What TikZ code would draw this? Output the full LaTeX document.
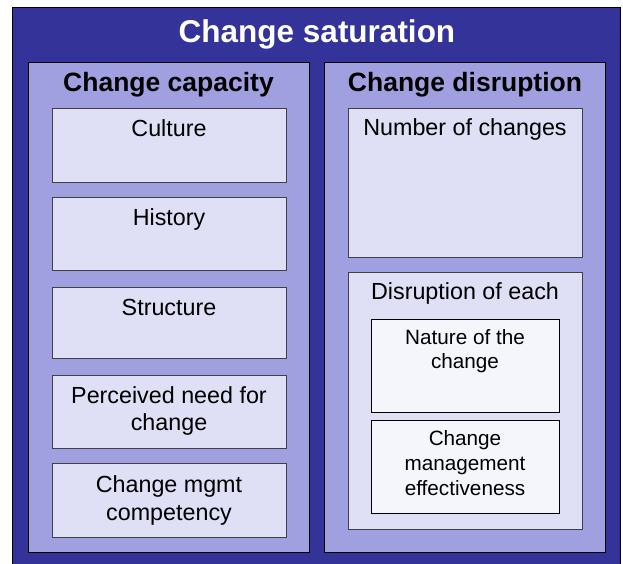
\documentclass[tikz,border=0pt]{standalone}
\usepackage{fontspec}
\setmainfont{Liberation Sans}
\definecolor{darkblue}{HTML}{333399}
\definecolor{panelblue}{HTML}{A0A0E0}
\definecolor{boxblue}{HTML}{DFDFF5}
\definecolor{innerbox}{HTML}{F5F5FC}
\definecolor{edgegray}{HTML}{404040}
\begin{document}
\begin{tikzpicture}[x=1pt,y=-1pt,
  frame/.style={draw=black, line width=0.8pt, fill=darkblue},
  panel/.style={draw=black, line width=0.8pt, fill=panelblue},
  itembox/.style={draw=edgegray, line width=0.8pt, fill=boxblue},
  innerbx/.style={draw=black, line width=0.8pt, fill=innerbox},
  titletxt/.style={anchor=base, text=white, font=\fontsize{31.5}{36}\selectfont\bfseries, inner sep=0pt},
  paneltxt/.style={anchor=base, font=\fontsize{26.5}{30}\selectfont\bfseries, inner sep=0pt},
  itemtxt/.style={anchor=base, align=center, font=\fontsize{23.3}{28}\selectfont, inner sep=0pt},
  innertxt/.style={anchor=base, align=center, font=\fontsize{20.7}{24.5}\selectfont, inner sep=0pt}
]
\useasboundingbox (0,0) rectangle (623,564);
\fill[white] (0,0) rectangle (623,564);

\path[frame] (12,7) rectangle (620,568);
\node[titletxt] (title) at (317,43) {Change saturation};

% left panel
\path[panel] (28,62) rectangle (309,552);
\node[paneltxt] (capt) at (168.5,92) {Change capacity};
\path[itembox] (52,108) rectangle (286,182);
\node[itemtxt] (culture) at (169,137) {Culture};
\path[itembox] (52,197) rectangle (286,270);
\node[itemtxt] (history) at (169,225) {History};
\path[itembox] (52,287) rectangle (286,358);
\node[itemtxt] (structure) at (169,315) {Structure};
\path[itembox] (52,375) rectangle (286,448);
\node[itemtxt] (need1) at (169,403) {Perceived need for};
\node[itemtxt] (need2) at (169,430) {change};
\path[itembox] (52,463) rectangle (286,537);
\node[itemtxt] (mgmt1) at (169,492) {Change mgmt};
\node[itemtxt] (mgmt2) at (169,520) {competency};

% right panel
\path[panel] (324,62) rectangle (605,552);
\node[paneltxt] (disr) at (465,92) {Change disruption};
\path[itembox] (348,108) rectangle (582,257);
\node[itemtxt] (number) at (465,136) {Number of changes};
\path[itembox] (348,272) rectangle (582,529);
\node[itemtxt] (each) at (465,299) {Disruption of each};
\path[innerbx] (371,319) rectangle (559,412);
\node[innertxt] (nature1) at (465,344) {Nature of the};
\node[innertxt] (nature2) at (465,368) {change};
\path[innerbx] (371,420) rectangle (559,513);
\node[innertxt] (cme1) at (465,445) {Change};
\node[innertxt] (cme2) at (465,470) {management};
\node[innertxt] (cme3) at (465,495) {effectiveness};
\end{tikzpicture}
\end{document}
